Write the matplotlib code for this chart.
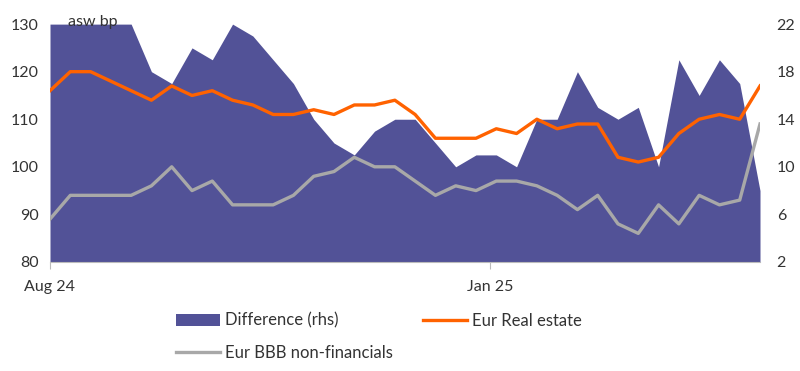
import matplotlib
matplotlib.use("Agg")
import matplotlib.pyplot as plt
from matplotlib.patches import Patch
from matplotlib.lines import Line2D
import pandas as pd

# weekly observations, Aug 2024 - Apr 2025
dates = pd.date_range("2024-08-02", periods=36, freq="7D")

real_estate = [116, 120, 120, 118, 116, 114, 117, 115, 116, 114, 113, 111,
               111, 112, 111, 113, 113, 114, 111, 106, 106, 106, 108, 107,
               110, 108, 109, 109, 102, 101, 102, 107, 110, 111, 110, 117]
bbb_nonfin = [89, 94, 94, 94, 94, 96, 100, 95, 97, 92, 92, 92,
              94, 98, 99, 102, 100, 100, 97, 94, 96, 95, 97, 97,
              96, 94, 91, 94, 88, 86, 92, 88, 94, 92, 93, 109]
difference = [22, 22, 22, 22, 22, 18, 17, 20, 19, 22, 21, 19,
              17, 14, 12, 11, 13, 14, 14, 12, 10, 11, 11, 10,
              14, 14, 18, 15, 14, 15, 10, 19, 16, 19, 17, 8]

AREA = "#525297"
ORANGE = "#FF6200"
GREY = "#A8A8A8"
TXT = "#333333"

plt.rcParams["font.family"] = ["Lato", "DejaVu Sans"]

fig = plt.figure(figsize=(8, 3.71), dpi=100)
ax = fig.add_axes([0.0625, 0.294, 0.8875, 0.641])
ax2 = ax.twinx()
ax.set_zorder(ax2.get_zorder() + 1)
ax.patch.set_visible(False)

ax2.fill_between(dates, difference, 2, color=AREA, lw=0)
ax.plot(dates, real_estate, color=ORANGE, lw=2.4)
ax.plot(dates, bbb_nonfin, color=GREY, lw=2.4)

ax.set_xlim(dates[0], dates[-1])
ax.set_ylim(80, 130)
ax.set_yticks(range(80, 131, 10))
ax2.set_ylim(2, 22)
ax2.set_yticks(range(2, 23, 4))

ax.set_xticks([dates[0], pd.Timestamp("2025-01-01")])
ax.set_xticklabels(["Aug 24", "Jan 25"])

for a in (ax, ax2):
    for s in a.spines.values():
        s.set_visible(False)
ax.spines["bottom"].set_visible(True)
ax.spines["bottom"].set_color("#BBBBBB")
ax.tick_params(axis="y", length=0, labelsize=11.5, colors=TXT, pad=8)
ax2.tick_params(axis="y", length=0, labelsize=11.5, colors=TXT, pad=12)
ax.tick_params(axis="x", length=5, color="#BBBBBB", labelsize=11.5, labelcolor=TXT, pad=8)
ax2.tick_params(axis="x", length=0)

ax.text(0.025, 1.01, "asw bp", transform=ax.transAxes, fontsize=11.5, color=TXT,
        ha="left", va="center")

handles = [
    Patch(facecolor=AREA, edgecolor="none", label="Difference (rhs)"),
    Line2D([], [], color=GREY, lw=2.4, label="Eur BBB non-financials"),
    Line2D([], [], color=ORANGE, lw=2.4, label="Eur Real estate"),
]
fig.legend(handles=handles, ncol=2, loc="upper left", bbox_to_anchor=(0.22, 0.158),
           frameon=False, fontsize=12, labelcolor=TXT, handlelength=2.65,
           handletextpad=0.3, columnspacing=1.8, labelspacing=1.0,
           borderaxespad=0, borderpad=0)

fig.savefig("out.png", dpi=100)
